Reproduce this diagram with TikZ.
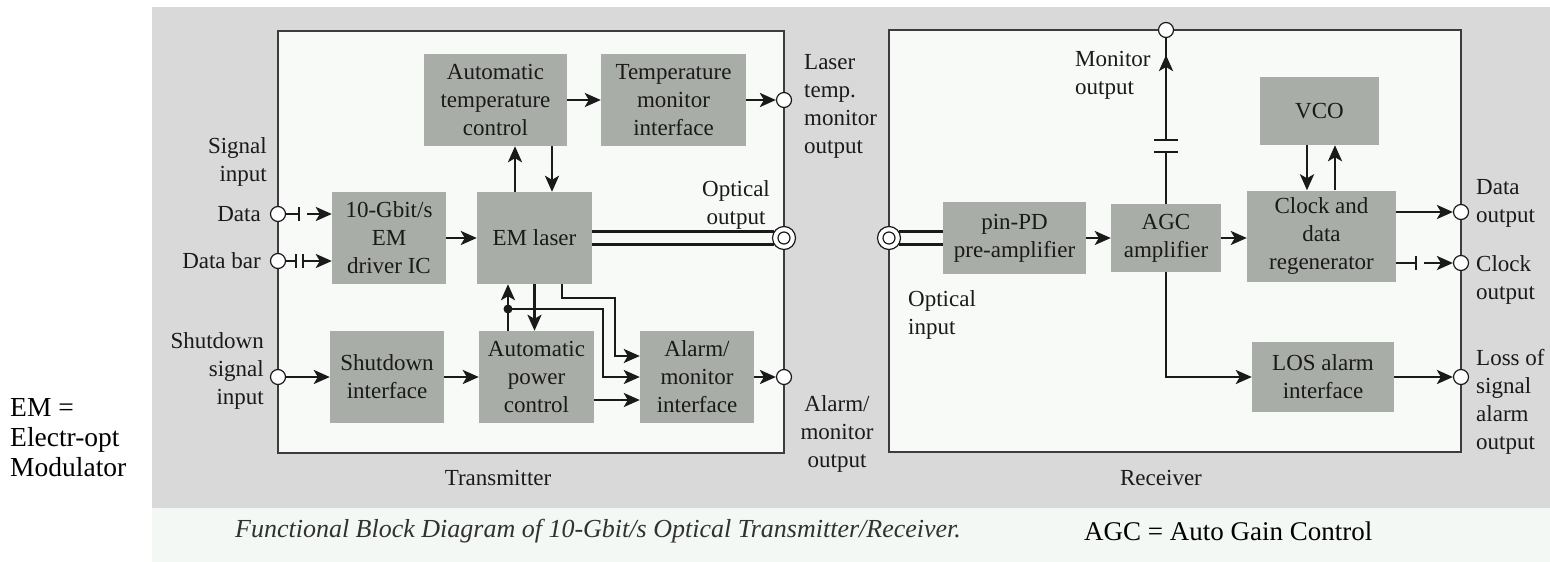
\documentclass[tikz,border=0pt]{standalone}
\usepackage{fontspec}
\setmainfont{Liberation Serif}
\usetikzlibrary{arrows.meta}
\definecolor{bggray}{HTML}{D9D9D9}
\definecolor{panel}{HTML}{F7FAF7}
\definecolor{blockgray}{HTML}{A9ADA7}
\definecolor{capstrip}{HTML}{F4F8F4}
\definecolor{ink}{HTML}{1A1A1A}
\begin{document}
\begin{tikzpicture}[x=1pt,y=-1pt,
  txt/.style={font=\fontsize{23}{28}\selectfont, text=ink},
  blk/.style={txt, fill=blockgray, draw=none, align=center, inner sep=0pt},
  lbl/.style={txt, inner sep=0pt},
  frame/.style={fill=panel, draw=ink!85, line width=1.6pt},
  ln/.style={draw=ink, line width=2.8pt},
  plate/.style={draw=ink, line width=2.4pt},
  arr/.style={ln, -{Stealth[length=16pt,width=14pt,inset=4pt]}},
  port/.style={circle, draw=ink, line width=1.2pt, fill=white, minimum size=15pt, inner sep=0pt},
  oport/.style={port, minimum size=23pt},
  iport/.style={port, minimum size=12pt},
]
\useasboundingbox (0,0) rectangle (1550,562);
% page, figure panel and caption strip
\fill[white] (0,0) rectangle (1550,562);
\fill[bggray] (152,7) rectangle (1550,508);
\fill[capstrip] (152,508) rectangle (1550,562);

% unit outlines
\draw[frame] (278,31) rectangle (784,453);
\draw[frame] (889,30) rectangle (1461,452);

% ---------------- transmitter blocks ----------------
\node[blk, minimum width=143pt, minimum height=92pt] (atc) at (495.5,100) {Automatic\\temperature\\control};
\node[blk, minimum width=145pt, minimum height=92pt] (tmi) at (673.5,100) {Temperature\\monitor\\interface};
\node[blk, minimum width=114pt, minimum height=92pt] (drv) at (389,238) {10-Gbit/s\\EM\\driver IC};
\node[blk, minimum width=115pt, minimum height=92pt] (eml) at (534.5,238) {EM laser};
\node[blk, minimum width=114pt, minimum height=92pt] (sdi) at (387,377) {Shutdown\\interface};
\node[blk, minimum width=115pt, minimum height=92pt] (apc) at (536.5,377) {Automatic\\power\\control};
\node[blk, minimum width=114pt, minimum height=92pt] (ami) at (697,377) {Alarm/\\monitor\\interface};

% ---------------- receiver blocks ----------------
\node[blk, minimum width=143pt, minimum height=72pt] (pin) at (1014.5,238) {pin-PD\\pre-amplifier};
\node[blk, minimum width=110pt, minimum height=68pt] (agc) at (1166,238) {AGC\\amplifier};
\node[blk, minimum width=149pt, minimum height=91pt] (cdr) at (1321.5,236) {Clock and\\data\\regenerator};
\node[blk, minimum width=119pt, minimum height=68pt] (vco) at (1319.5,111) {VCO};
\node[blk, minimum width=142pt, minimum height=70pt] (los) at (1323,377) {LOS alarm\\interface};

% ---------------- ports ----------------
\node[port] (pdata) at (278,214) {};
\node[port] (pdbar) at (278,261) {};
\node[port] (pshut) at (278,377) {};
\node[port] (ptemp) at (784,100) {};
\node[oport] (popt) at (784,238) {};
\node[iport] (popti) at (784,238) {};
\node[port] (palarm) at (784,377) {};
\node[oport] (rin) at (889,238) {};
\node[iport] (rini) at (889,238) {};
\node[port] (rmon) at (1166,30) {};
\node[port] (rdata) at (1461,212) {};
\node[port] (rclk) at (1461,263) {};
\node[port] (rlos) at (1461,377) {};

% ---------------- transmitter connectors ----------------
% data input, coupled through a capacitor
\coordinate (dcap) at (299,214);
\draw[ln] (pdata.east) -- (dcap);
\draw[plate] ([yshift=7pt]dcap) -- ([yshift=-7pt]dcap);
\draw[arr] ([xshift=8pt]dcap) -- (dcap -| drv.west);
% inverted data input
\coordinate (dbA) at (296,261);
\coordinate (dbB) at (303,261);
\draw[ln] (pdbar.east) -- (dbA);
\draw[plate] ([yshift=7pt]dbA) -- ([yshift=-7pt]dbA);
\draw[plate] ([yshift=7pt]dbB) -- ([yshift=-7pt]dbB);
\draw[arr] (dbB) -- (dbB -| drv.west);

\draw[arr] (drv.east) -- (eml.west);
\draw[arr] ([xshift=-19.5pt]eml.north) -- ([xshift=-19.5pt]eml.north |- atc.south);
\draw[arr] ([xshift=17.5pt]eml.north |- atc.south) -- ([xshift=17.5pt]eml.north);
\draw[arr] (atc.east) -- (tmi.west);
\draw[arr] (tmi.east) -- (ptemp.west);

% fibre to the optical output
\draw[ln] ([yshift=6.5pt]eml.east) -- ([yshift=6.5pt]eml.east -| popt.146);
\draw[ln] ([yshift=-6.5pt]eml.east) -- ([yshift=-6.5pt]eml.east -| popt.214);

% power control loop and alarm feeds
\coordinate (jn) at (508,309);
\draw[arr] ([xshift=-28.5pt]apc.north) -- ([xshift=-28.5pt]apc.north |- eml.south);
\draw[arr] (eml.south) -- (eml.south |- apc.north);
\draw[arr] (jn) -- (603,309) |- (ami.west);
\fill[ink] (jn) circle (4.5pt);
\draw[arr] ([xshift=27.5pt]eml.south) |- (615,298) |- ([yshift=21pt]ami.west);
\draw[arr] ([yshift=-23pt]apc.east) -- ([yshift=-23pt]ami.west);

\draw[arr] (pshut.east) -- (sdi.west);
\draw[arr] (sdi.east) -- (apc.west);
\draw[arr] (ami.east) -- (palarm.west);

% ---------------- receiver connectors ----------------
\draw[ln] ([yshift=6.5pt]pin.west -| rin.34) -- ([yshift=6.5pt]pin.west);
\draw[ln] ([yshift=-6.5pt]pin.west -| rin.-34) -- ([yshift=-6.5pt]pin.west);
\draw[arr] (pin.east) -- (agc.west);
\draw[arr] (agc.east) -- (agc.east -| cdr.west);

% monitor tap through a coupling capacitor
\coordinate (capLo) at (1166,152);
\coordinate (capHi) at (1166,140);
\coordinate (monTip) at (1166,55);
\draw[ln] (agc.north) -- (capLo);
\draw[plate] ([xshift=-12pt]capLo) -- ([xshift=12pt]capLo);
\draw[plate] ([xshift=-12pt]capHi) -- ([xshift=12pt]capHi);
\draw[ln] (capHi) -- (rmon.south);
\draw[arr] (capHi) -- (monTip);

\draw[arr] ([xshift=-12.5pt]vco.south) -- ([xshift=-12.5pt]vco.south |- cdr.north);
\draw[arr] ([xshift=15.5pt]vco.south |- cdr.north) -- ([xshift=15.5pt]vco.south);
\draw[arr] (rdata -| cdr.east) -- (rdata.west);
\coordinate (ckTick) at (1416,263);
\draw[ln] (rclk -| cdr.east) -- (ckTick);
\draw[plate] ([yshift=7pt]ckTick) -- ([yshift=-7pt]ckTick);
\draw[arr] ([xshift=8pt]ckTick) -- (rclk.west);
\draw[arr] (agc.south) |- (los.west);
\draw[arr] (los.east) -- (rlos.west);

% ---------------- labels ----------------
\node[lbl, align=right, anchor=north east] (lsig) at (267,137) {Signal\\input};
\node[lbl, anchor=east] (ldata) at (261,214) {Data};
\node[lbl, anchor=east] (ldbar) at (261,261) {Data bar};
\node[lbl, align=right, anchor=north east] (lshut) at (264,332) {Shutdown\\signal\\input};
\node[lbl, align=left, anchor=north west] (ltemp) at (804,54) {Laser\\temp.\\monitor\\output};
\node[lbl, align=center, anchor=north] (lopt) at (736,180) {Optical\\output};
\node[lbl, align=center, anchor=north] (lalm) at (837,395) {Alarm/\\monitor\\output};
\node[lbl] (ltx) at (498,478) {Transmitter};
\node[lbl] (lrx) at (1161,478) {Receiver};
\node[lbl, align=left, anchor=north west] (lmon) at (1075,51) {Monitor\\output};
\node[lbl, align=left, anchor=north west] (lin) at (908,290) {Optical\\input};
\node[lbl, align=left, anchor=north west] (ldo) at (1476,179) {Data\\output};
\node[lbl, align=left, anchor=north west] (lco) at (1476,255) {Clock\\output};
\node[lbl, align=left, anchor=north west] (llos) at (1476,349) {Loss of\\signal\\alarm\\output};

% notes and caption
\node[inner sep=0pt, align=left, anchor=north west, font=\fontsize{27.5}{30}\selectfont] (lem) at (10,398) {EM =\\Electr-opt\\Modulator};
\node[inner sep=0pt, font=\fontsize{26}{30}\selectfont\itshape, text=ink!90] (lcap) at (598,531) {Functional Block Diagram of 10-Gbit/s Optical Transmitter/Receiver.};
\node[inner sep=0pt, anchor=west, font=\fontsize{27}{30}\selectfont] (lagc) at (1084,531) {AGC = Auto Gain Control};
\end{tikzpicture}
\end{document}
